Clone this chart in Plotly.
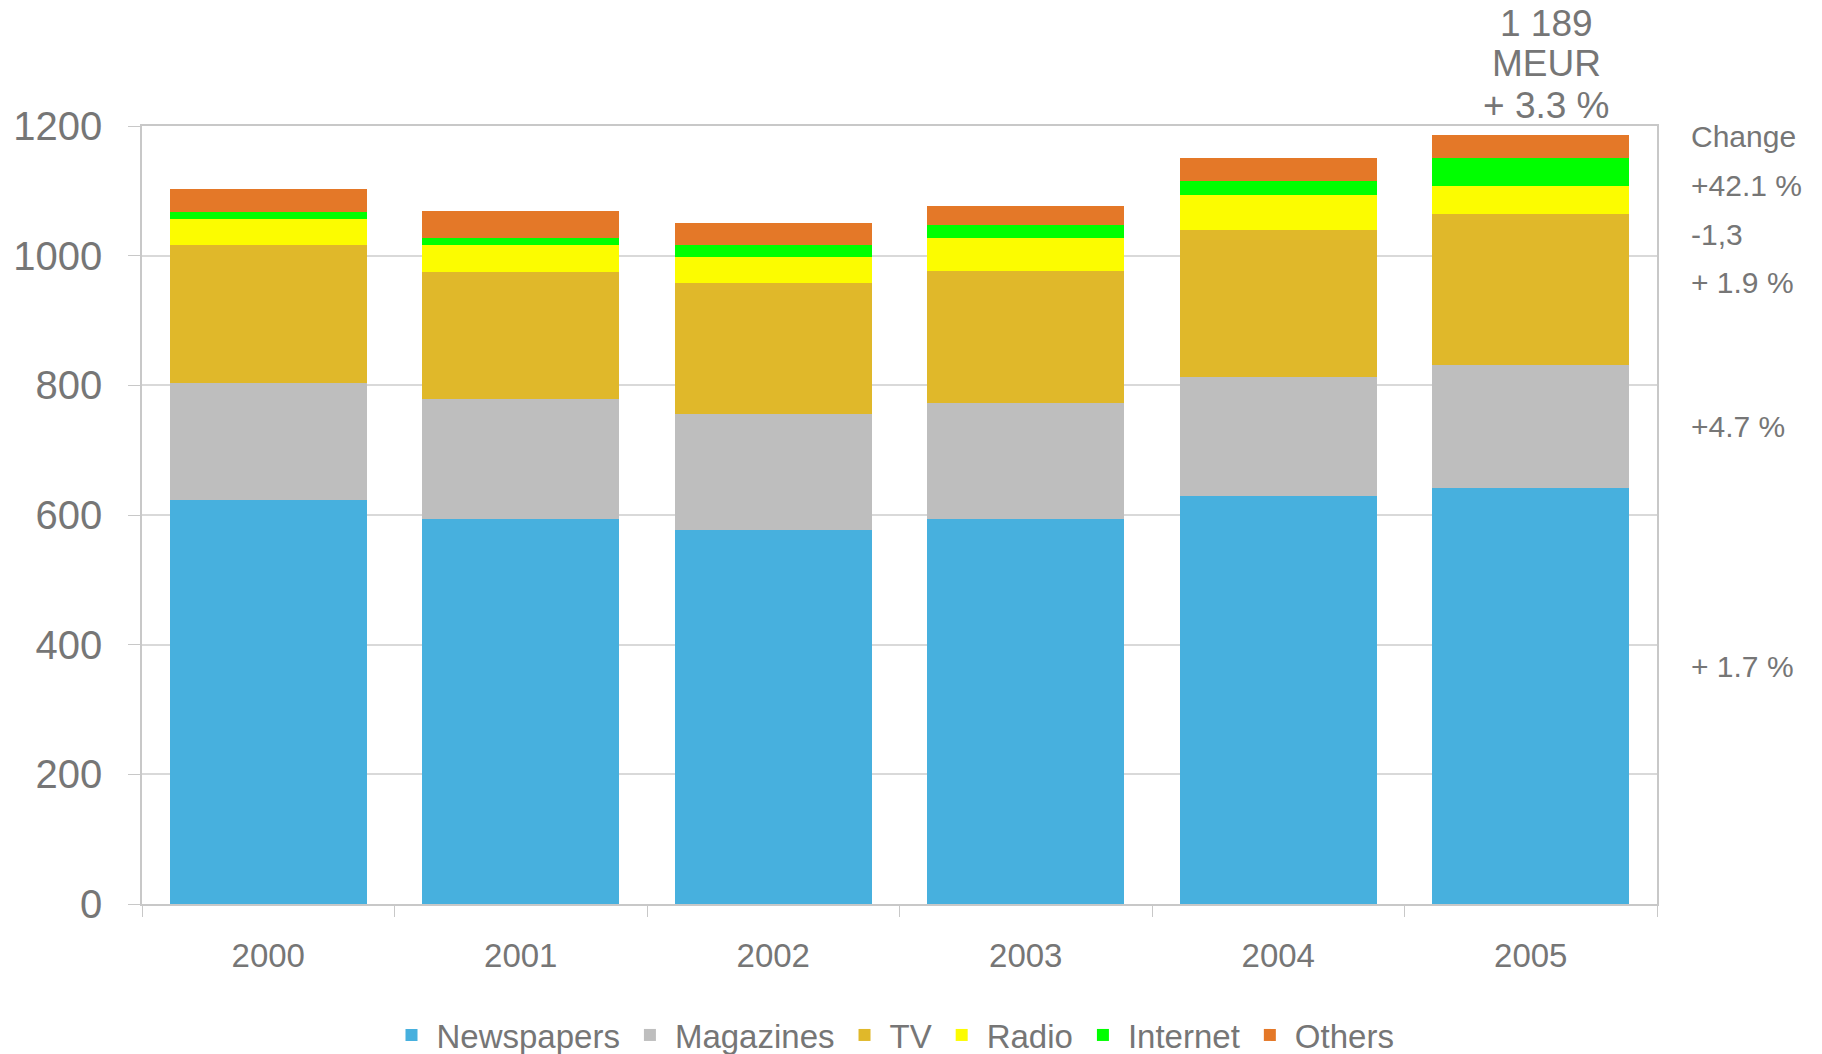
import plotly.graph_objects as go

years = ["2000", "2001", "2002", "2003", "2004", "2005"]
newspapers = [623, 594, 577, 594, 630, 641]
magazines = [180, 185, 179, 179, 183, 191]
tv = [214, 196, 202, 204, 227, 232]
radio = [40, 42, 40, 51, 53, 44]
internet = [11, 11, 18, 19, 22, 42]
others = [35, 41, 35, 29, 35, 36]

series = [
    ("Newspapers", newspapers, "#47B0DE"),
    ("Magazines", magazines, "#BEBEBE"),
    ("TV", tv, "#E0B82A"),
    ("Radio", radio, "#FCFC00"),
    ("Internet", internet, "#00FF00"),
    ("Others", others, "#E47828"),
]

change_labels = ["Change", "+42.1 %", "-1,3", "+ 1.9 %", "+4.7 %", "+ 1.7 %"]
change_ypix = [137, 185, 234, 282, 426, 666]
total_lines = ["1 189", "MEUR", "+ 3.3 %"]
total_ypix = [24, 63, 105]

FONT = "Liberation Sans, Arial, sans-serif"
GREY = "#767676"

fig = go.Figure()
for name, vals, col in series:
    fig.add_trace(go.Bar(x=years, y=vals, name=name, marker=dict(color=col, line=dict(width=0))))

# plot area geometry in pixels
L, R, T, B = 142, 165, 126, 150
H = 1054 - T - B
W = 1822 - L - R


def py(pix):
    return (1054 - B - pix) / H


def px(pix):
    return (pix - L) / W


annotations = []
for txt, yp in zip(change_labels, change_ypix):
    annotations.append(dict(text=txt, xref="paper", yref="paper", x=px(1689), y=py(yp),
                            xanchor="left", yanchor="middle", showarrow=False,
                            font=dict(size=30, color=GREY, family=FONT)))
for txt, yp in zip(total_lines, total_ypix):
    annotations.append(dict(text=txt, xref="x", yref="paper", x=len(years) - 1, y=py(yp),
                            xshift=16, xanchor="center", yanchor="middle", showarrow=False,
                            font=dict(size=37, color=GREY, family=FONT)))

fig.update_layout(
    width=1822, height=1054,
    margin=dict(l=L, r=R, t=T, b=B, autoexpand=False),
    barmode="stack", bargap=0.22,
    plot_bgcolor="white", paper_bgcolor="white",
    font=dict(family=FONT, color=GREY),
    showlegend=True,
    legend=dict(orientation="h", x=px(893), y=py(1035), xanchor="center", yanchor="middle",
                font=dict(size=33, color=GREY, family=FONT), traceorder="normal",
                itemwidth=40, tracegroupgap=0),
    annotations=annotations,
    xaxis=dict(type="category", tickson="boundaries", ticks="outside", ticklen=11,
               tickcolor="#c8c8c8", showline=True, linecolor="#c8c8c8", linewidth=1.5,
               mirror=True, showgrid=False, tickangle=0, automargin=False,
               tickfont=dict(size=33, color=GREY, family=FONT), ticklabelstandoff=22),
    yaxis=dict(range=[0, 1200], dtick=200, ticks="outside", ticklen=12,
               tickcolor="#c8c8c8", showline=True, linecolor="#c8c8c8", linewidth=1.5,
               mirror=True, showgrid=True, gridcolor="#d9d9d9", gridwidth=1.5,
               zeroline=False, automargin=False,
               tickfont=dict(size=40, color=GREY, family=FONT), ticklabelstandoff=18),
)

fig.write_html("out.html")
